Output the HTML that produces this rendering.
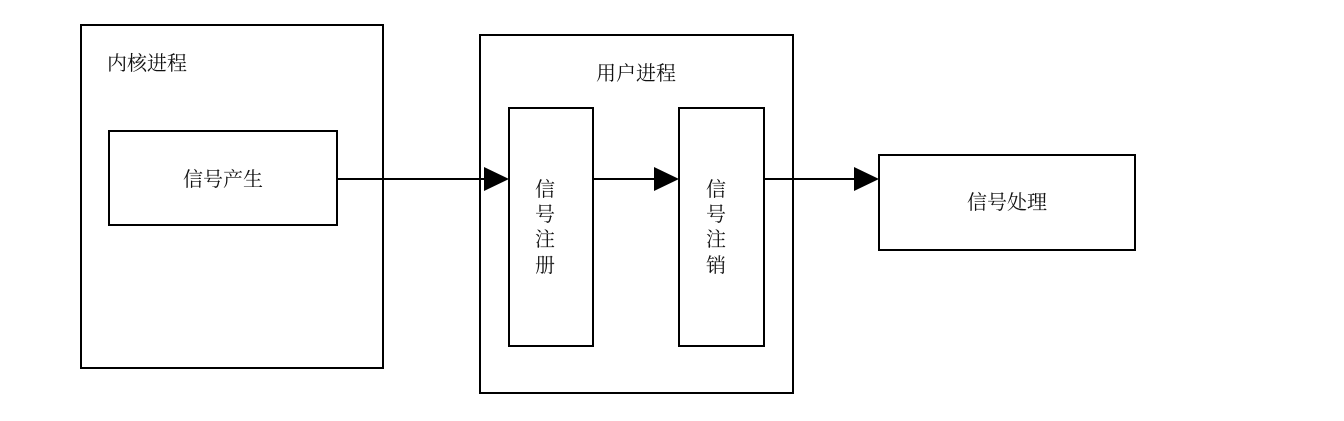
<!DOCTYPE html>
<html><head><meta charset="utf-8"><style>
body{margin:0;width:1344px;height:416px;background:#fff;overflow:hidden}
svg text{font-family:"Liberation Serif","Noto Serif CJK SC",serif;font-size:20px;fill:#111}
</style></head><body>
<svg width="1344" height="416" viewBox="0 0 1344 416">
<g fill="none" stroke="#000" stroke-width="2">
<rect x="81" y="25" width="302" height="343"/>
<rect x="109" y="131" width="228" height="94"/>
<rect x="480" y="35" width="313" height="358"/>
<rect x="509" y="108" width="84" height="238"/>
<rect x="679" y="108" width="85" height="238"/>
<rect x="879" y="155" width="256" height="95"/>
<line x1="337" y1="179" x2="486" y2="179"/>
<line x1="593" y1="179" x2="656" y2="179"/>
<line x1="764" y1="179" x2="856" y2="179"/>
</g>
<g fill="#000">
<polygon points="484,167 509,179 484,191"/>
<polygon points="654,167 679,179 654,191"/>
<polygon points="854,167 879,179 854,191"/>
</g>
<text x="107" y="70">内核进程</text>
<text x="223" y="186" text-anchor="middle">信号产生</text>
<text x="636" y="80" text-anchor="middle">用户进程</text>
<text x="1007" y="209" text-anchor="middle">信号处理</text>
<g text-anchor="middle">
<text x="545" y="196">信</text><text x="545" y="221">号</text><text x="545" y="246">注</text><text x="545" y="272">册</text>
<text x="716" y="196">信</text><text x="716" y="221">号</text><text x="716" y="246">注</text><text x="716" y="272">销</text>
</g>
</svg>
</body></html>
